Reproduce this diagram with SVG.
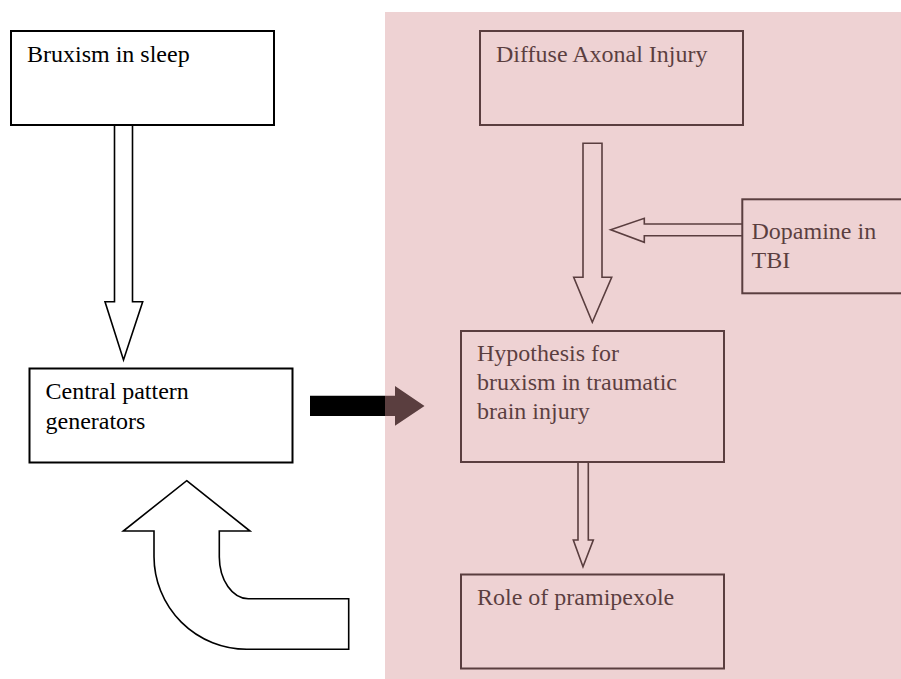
<svg xmlns="http://www.w3.org/2000/svg" width="901" height="679" viewBox="0 0 901 679">
  <style>
    .box { fill: #ffffff; stroke: #000000; stroke-width: 2; }
    .hollow { fill: #ffffff; stroke: #000000; stroke-width: 1.6; stroke-linejoin: miter; }
    .lbl { font-family: "Liberation Serif", "Times New Roman", serif; font-size: 24px; fill: #000000; }
  </style>
  <rect x="0" y="0" width="901" height="679" fill="#ffffff"/>

  <g id="connectors">
    <!-- Bruxism -> CPG hollow down arrow -->
    <path class="hollow" d="M114.5,124.7 L132.5,124.7 L132.5,301.7 L142.7,301.7 L123.5,360 L105,301.7 L114.5,301.7 Z"/>
    <!-- CPG -> Hypothesis solid arrow -->
    <path d="M310,395.7 L395,395.7 L395,386 L424.5,406 L395,425.7 L395,416 L310,416 Z" fill="#000000"/>
    <!-- Curved feedback arrow -->
    <path class="hollow" d="M186.7,480.7 L250,531 L219.3,531 L219.3,557 A29,42 0 0 0 248.3,598.7 L348.7,598.7 L348.7,649.3 L246.7,649.3 A93,93 0 0 1 154,556.7 L154,531 L123.3,531 Z"/>
    <!-- Diffuse Axonal Injury -> Hypothesis -->
    <path class="hollow" d="M583,143.3 L602,143.3 L602,277.3 L611.7,277.3 L592.3,322.3 L573.7,277.3 L583,277.3 Z"/>
    <!-- Dopamine -> vertical arrow -->
    <path class="hollow" d="M742.3,224 L644.3,224 L644.3,218.3 L610.7,229.7 L644.3,242.3 L644.3,235.7 L742.3,235.7"/>
    <!-- Hypothesis -> Role of pramipexole -->
    <path class="hollow" d="M578,462.3 L588.3,462.3 L588.3,540 L593.3,540 L583,566.7 L573.3,540 L578,540 Z"/>
  </g>

  <g id="node-bruxism-sleep">
    <rect class="box" x="11" y="31" width="263" height="94"/>
    <text class="lbl" x="27" y="62">Bruxism in sleep</text>
  </g>

  <g id="node-cpg">
    <rect class="box" x="29.5" y="368.5" width="263" height="94"/>
    <text class="lbl" x="45.5" y="398.5">Central pattern</text>
    <text class="lbl" x="45.5" y="428.5">generators</text>
  </g>

  <g id="node-dai">
    <rect class="box" x="480" y="31" width="263" height="94"/>
    <text class="lbl" x="496" y="62">Diffuse Axonal Injury</text>
  </g>

  <g id="node-dopamine">
    <rect class="box" x="742.3" y="199.3" width="180" height="94"/>
    <text class="lbl" x="751.5" y="238.5">Dopamine in</text>
    <text class="lbl" x="751.5" y="268">TBI</text>
  </g>

  <g id="node-hypothesis">
    <rect class="box" x="461" y="331" width="263" height="131"/>
    <text class="lbl" x="477" y="361">Hypothesis for</text>
    <text class="lbl" x="477" y="390">bruxism in traumatic</text>
    <text class="lbl" x="477" y="419">brain injury</text>
  </g>

  <g id="node-pramipexole">
    <rect class="box" x="461" y="574.5" width="263" height="94"/>
    <text class="lbl" x="477" y="605">Role of pramipexole</text>
  </g>

  <!-- translucent pink panel laid over the right half -->
  <rect id="panel" x="385" y="12" width="516" height="667" fill="rgb(215,147,151)" fill-opacity="0.42"/>
</svg>
